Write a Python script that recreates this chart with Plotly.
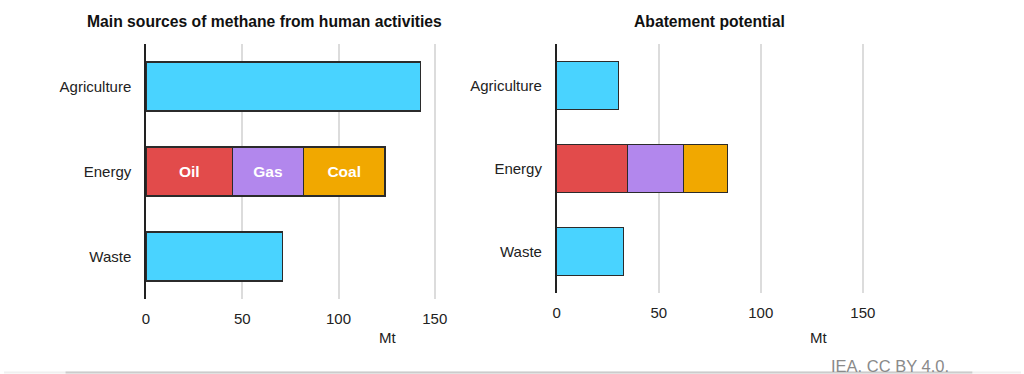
import plotly.graph_objects as go

W, H = 1024, 374

categories = ["Agriculture", "Energy", "Waste"]
single_cats = ["Agriculture", "Waste"]

# Main sources (Mt)
src_single = [142.4, 71.1]
src_oil = [45.0]
src_gas = [36.7]
src_coal = [42.5]

# Abatement potential (Mt)
abt_single = [30.1, 32.7]
abt_oil = [34.5]
abt_gas = [27.8]
abt_coal = [21.5]

energy_labels = ["Oil", "Gas", "Coal"]
x_ticks = [0, 50, 100, 150]

CYAN = "#49D3FF"
RED = "#E24B4B"
PURPLE = "#B287ED"
ORANGE = "#F1A800"
OUTLINE = "#2b2b2b"
FONT = "Arial, Liberation Sans, sans-serif"


def px(x):
    return x / W


def py(y):
    return 1 - y / H


fig = go.Figure()

line = dict(color=OUTLINE, width=1.2)


def add_panel(xa, ya, single, oil, gas, coal, show_text):
    fig.add_trace(go.Bar(y=single_cats, x=single, orientation="h",
                         marker=dict(color=CYAN, line=line),
                         xaxis=xa, yaxis=ya, width=0.577, showlegend=False,
                         hoverinfo="x+y"))
    for vals, col, lab in zip([oil, gas, coal], [RED, PURPLE, ORANGE], energy_labels):
        fig.add_trace(go.Bar(y=["Energy"], x=vals, orientation="h",
                             marker=dict(color=col, line=line),
                             xaxis=xa, yaxis=ya, width=0.577, showlegend=False,
                             name=lab,
                             text=[lab] if show_text else None,
                             textposition="inside" if show_text else None,
                             insidetextanchor="middle",
                             textfont=dict(color="white", size=15.5, family=FONT, weight="bold"),
                             hoverinfo="x+name"))


add_panel("x", "y", src_single, src_oil, src_gas, src_coal, True)
add_panel("x2", "y2", abt_single, abt_oil, abt_gas, abt_coal, False)

axis_common = dict(
    tickvals=x_ticks, showgrid=True, gridcolor="#dcdcdc", gridwidth=1.5,
    zeroline=False, showline=False, ticks="", ticklabelstandoff=9,
    tickfont=dict(size=15, color="#222", family=FONT),
)
yaxis_common = dict(
    categoryorder="array", categoryarray=categories, autorange="reversed",
    showline=True, linecolor="#222", linewidth=1.5, showgrid=False,
    ticks="", ticklabelstandoff=10,
    tickfont=dict(size=15, color="#222", family=FONT),
)

fig.update_layout(
    width=W, height=H, margin=dict(l=0, r=0, t=0, b=0),
    paper_bgcolor="white", plot_bgcolor="white",
    barmode="stack", bargap=0.423,
    font=dict(family=FONT, color="#222"),
    xaxis=dict(axis_common, domain=[px(143), px(143 + 155 * 1.938)], range=[0, 155],
               anchor="y"),
    yaxis=dict(yaxis_common, domain=[py(299), py(44)], anchor="x"),
    xaxis2=dict(axis_common, domain=[px(556.5), px(556.5 + 190 * 2.055)], range=[0, 190],
                anchor="y2"),
    yaxis2=dict(yaxis_common, domain=[py(292.7), py(44)], anchor="x2"),
)

annots = [
    dict(text="<b>Main sources of methane from human activities</b>", x=px(262), y=py(21),
         font=dict(size=15.7, color="#111")),
    dict(text="<b>Abatement potential</b>", x=px(710), y=py(21),
         font=dict(size=15.7, color="#111")),
    dict(text="Mt", x=px(386), y=py(337), font=dict(size=15, color="#222")),
    dict(text="Mt", x=px(820), y=py(337), font=dict(size=15, color="#222")),
    dict(text="IEA. CC BY 4.0.", x=px(892), y=py(366), font=dict(size=16.5, color="#8a8a8a")),
]
for a in annots:
    fig.add_annotation(xref="paper", yref="paper", showarrow=False,
                       xanchor="center", yanchor="middle", **a)

fig.add_shape(type="line", xref="paper", yref="paper", x0=0, x1=1, y0=py(372.5), y1=py(372.5),
              line=dict(color="#f0f0f0", width=2))
fig.add_shape(type="line", xref="paper", yref="paper", x0=px(62), x1=px(975), y0=py(372.5), y1=py(372.5),
              line=dict(color="#cccccc", width=2))

fig.write_html(
    "out.html",
    config={"displayModeBar": False},
    post_script="document.body.style.margin='0px';document.body.style.overflow='hidden';",
)
